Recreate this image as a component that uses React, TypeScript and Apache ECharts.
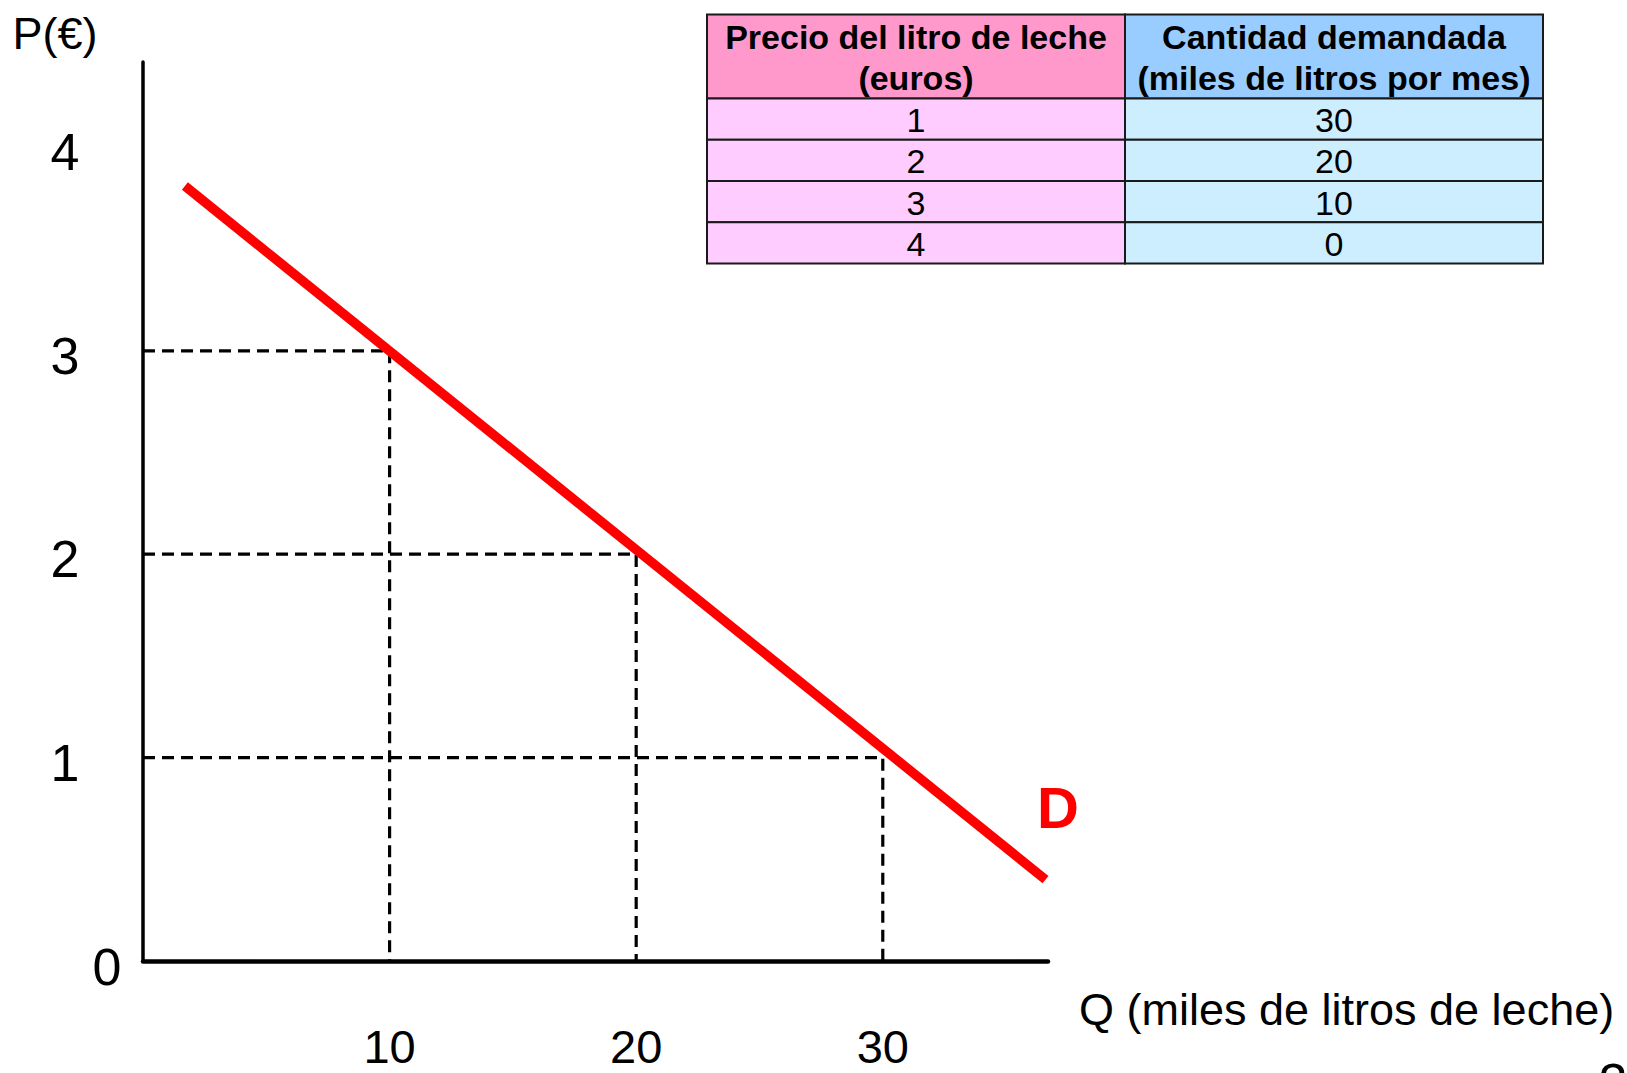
import React, { useEffect, useRef } from "react";
import * as echarts from "echarts";

// ---- data ----
const prices = [1, 2, 3, 4];
const quantities = [30, 20, 10, 0];
const demandLine = [
  [1.7, 3.81],
  [36.6, 0.4],
];
const xTicks = [10, 20, 30];
const yTicks = [0, 1, 2, 3, 4];
const tableHeaders = [
  "Precio del litro de leche\n(euros)",
  "Cantidad demandada\n(miles de litros por mes)",
];
const yName = "P(€)";
const xName = "Q (miles de litros de leche)";
const curveLabel = "D";
const slideNumber = "2";

const REG = "'Liberation Sans', Arial, sans-serif";

export default function App() {
  const ref = useRef<HTMLDivElement>(null);

  useEffect(() => {
    if (!ref.current) return;
    const chart = echarts.init(ref.current, undefined, { renderer: "svg" });

    const guideSeries = prices
      .map((p, i) => ({ p, q: quantities[i] }))
      .filter((d) => d.q > 0)
      .map((d) => ({
        type: "line",
        data: [
          [0, d.p],
          [d.q, d.p],
          [d.q, 0],
        ],
        symbol: "none",
        silent: true,
        lineStyle: { color: "#000", width: 3.2, type: [12, 7] },
        z: 2,
      }));

    // table
    const tLeft = 707, tMid = 1125, tRight = 1543;
    const tTop = 14.5, hBottom = 98.5, rowH = 41.25;
    const tableEls: any[] = [];
    const colX = [tLeft, tMid];
    const colW = [tMid - tLeft, tRight - tMid];
    const headFill = ["#ff99cc", "#99ccff"];
    const bodyFill = ["#ffccff", "#cceeff"];
    for (let c = 0; c < 2; c++) {
      tableEls.push({
        type: "rect",
        shape: { x: colX[c], y: tTop, width: colW[c], height: hBottom - tTop },
        style: { fill: headFill[c], stroke: "#1a1a1a", lineWidth: 2 },
      });
      tableEls.push({
        type: "text",
        style: {
          text: tableHeaders[c],
          x: colX[c] + colW[c] / 2,
          y: (tTop + hBottom) / 2 + 1,
          align: "center",
          verticalAlign: "middle",
          fontFamily: REG,
          fontWeight: "bold",
          fontSize: 34,
          lineHeight: 40.5,
          fill: "#000",
        },
      });
    }
    prices.forEach((p, r) => {
      const vals = [String(p), String(quantities[r])];
      for (let c = 0; c < 2; c++) {
        const y = hBottom + r * rowH;
        tableEls.push({
          type: "rect",
          shape: { x: colX[c], y, width: colW[c], height: rowH },
          style: { fill: bodyFill[c], stroke: "#1a1a1a", lineWidth: 2 },
        });
        tableEls.push({
          type: "text",
          style: {
            text: vals[c],
            x: colX[c] + colW[c] / 2,
            y: y + rowH / 2 + 1,
            align: "center",
            verticalAlign: "middle",
            fontFamily: REG,
            fontSize: 34,
            fill: "#000",
          },
        });
      }
    });

    chart.setOption({
      animation: false,
      backgroundColor: "#fff",
      grid: { left: 143, right: 579, top: 62, bottom: 112, containLabel: false },
      xAxis: {
        type: "value",
        min: 0,
        max: 36.7,
        interval: 10,
        splitLine: { show: false },
        axisTick: { show: false },
        axisLine: { show: true, lineStyle: { color: "#000", width: 4.5 } },
        axisLabel: {
          formatter: (v: number) => (xTicks.includes(v) ? String(v) : ""),
          fontFamily: REG,
          fontSize: 47,
          lineHeight: 40,
          color: "#000",
          margin: 65,
        },
      },
      yAxis: {
        type: "value",
        min: 0,
        max: 4.42,
        interval: 1,
        splitLine: { show: false },
        axisTick: { show: false },
        axisLine: { show: true, lineStyle: { color: "#000", width: 3.5 } },
        axisLabel: {
          formatter: (v: number) =>
            yTicks.includes(v) ? (v === 0 ? "{z|0}" : `{a|${v}}`) : "",
          align: "center",
          verticalAlign: "middle",
          margin: 78,
          color: "#000",
          rich: {
            a: { fontFamily: REG, fontSize: 52, color: "#000", padding: [10, 0, 0, 0] },
            z: { fontFamily: REG, fontSize: 52, color: "#000", padding: [12, 0, 0, 84] },
          },
        },
        name: yName,
        nameLocation: "end",
        nameGap: 29,
        nameTextStyle: {
          fontFamily: REG,
          fontSize: 45,
          color: "#000",
          align: "center",
          verticalAlign: "middle",
          padding: [0, 176, 0, 0],
        },
      },
      series: [
        ...guideSeries,
        {
          type: "line",
          data: demandLine,
          symbol: "none",
          silent: true,
          lineStyle: { color: "#ff0000", width: 9.5 },
          z: 3,
        },
      ],
      graphic: [
        ...tableEls,
        {
          type: "text",
          style: {
            text: xName,
            x: 1079,
            y: 1009,
            align: "left",
            verticalAlign: "middle",
            fontFamily: REG,
            fontSize: 45,
            fill: "#000",
          },
        },
        {
          type: "text",
          style: {
            text: curveLabel,
            x: 1058,
            y: 807,
            align: "center",
            verticalAlign: "middle",
            fontFamily: REG,
            fontWeight: "bold",
            fontSize: 58,
            fill: "#ff0000",
          },
        },
        {
          type: "text",
          style: {
            text: slideNumber,
            x: 1613,
            y: 1056,
            align: "center",
            verticalAlign: "top",
            fontFamily: REG,
            fontSize: 52,
            fill: "#000",
          },
        },
      ],
    });

    return () => chart.dispose();
  }, []);

  return (
    <div
      ref={ref}
      style={{ position: "fixed", left: 0, top: 0, width: 1627, height: 1073, background: "#fff" }}
    />
  );
}
